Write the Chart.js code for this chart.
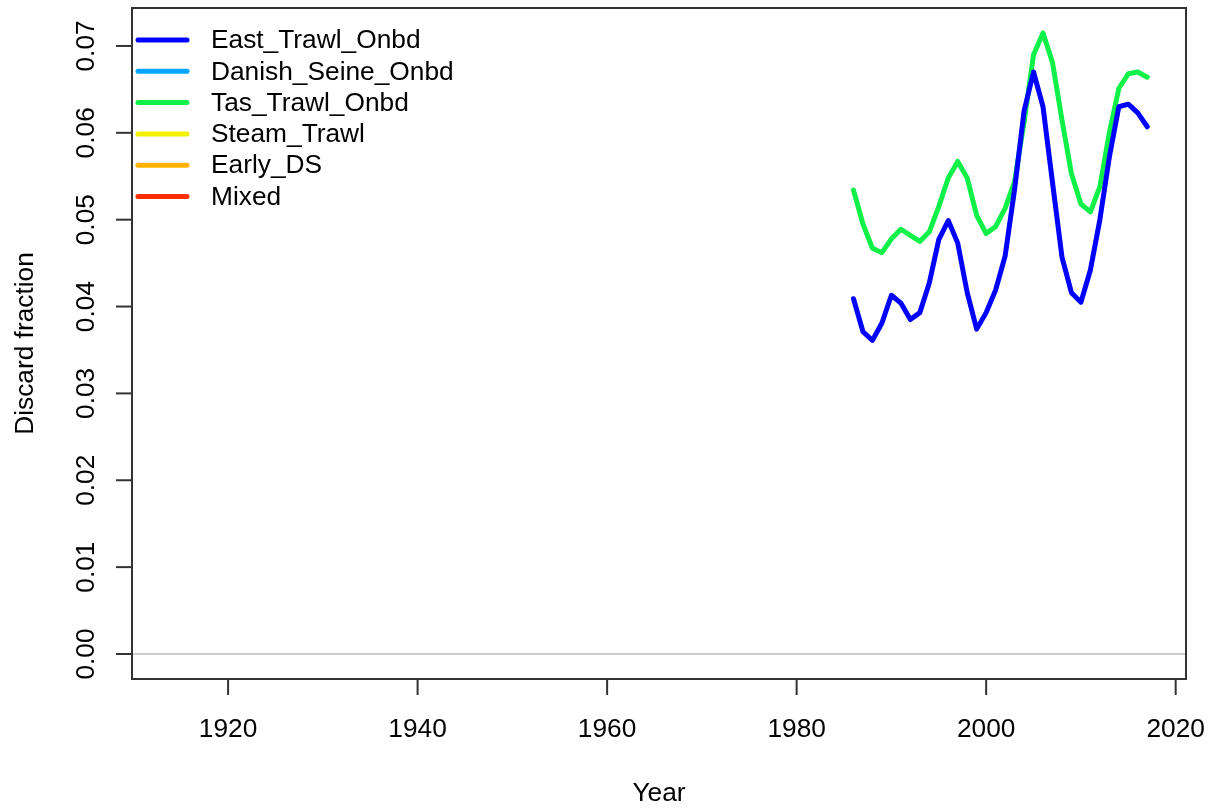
<!DOCTYPE html>
<html>
<head>
<meta charset="utf-8">
<title>Discard fraction</title>
<script src="https://cdn.jsdelivr.net/npm/chart.js@4.4.1/dist/chart.umd.min.js"></script>
<style>
  html, body { margin: 0; padding: 0; background: #fff; }
  #chart { display: block; }
</style>
</head>
<body>
<canvas id="chart" width="1212" height="810"></canvas>
<script>
// Datos
const years = [1986, 1987, 1988, 1989, 1990, 1991, 1992, 1993, 1994, 1995, 1996,
  1997, 1998, 1999, 2000, 2001, 2002, 2003, 2004, 2005, 2006, 2007, 2008, 2009,
  2010, 2011, 2012, 2013, 2014, 2015, 2016, 2017];

const eastTrawl = [0.0409, 0.0371, 0.0361, 0.0381, 0.0413, 0.0404, 0.0385, 0.0393,
  0.0427, 0.0477, 0.0499, 0.0473, 0.0416, 0.0374, 0.0393, 0.0419, 0.0458, 0.0535,
  0.0625, 0.0670, 0.0630, 0.0543, 0.0457, 0.0416, 0.0405, 0.0442, 0.0500, 0.0572,
  0.0630, 0.0633, 0.0623, 0.0607];

const tasTrawl = [0.0534, 0.0495, 0.0467, 0.0462, 0.0478, 0.0489, 0.0482, 0.0475,
  0.0486, 0.0515, 0.0548, 0.0567, 0.0548, 0.0505, 0.0484, 0.0492, 0.0513, 0.0544,
  0.0612, 0.0690, 0.0715, 0.0681, 0.0615, 0.0553, 0.0518, 0.0509, 0.0538, 0.0600,
  0.0651, 0.0668, 0.0670, 0.0664];

// Flotas sin datos en el periodo (solo aparecen en la leyenda)
const danishSeine = [];
const steamTrawl = [];
const earlyDS = [];
const mixed = [];

const fleetNames = ['East_Trawl_Onbd', 'Danish_Seine_Onbd', 'Tas_Trawl_Onbd',
  'Steam_Trawl', 'Early_DS', 'Mixed'];
const fleetColors = ['#0000ff', '#00a6ff', '#0ff048', '#f2f200', '#ffb300', '#ff2d00'];
const fleetValues = [eastTrawl, danishSeine, tasTrawl, steamTrawl, earlyDS, mixed];

const xTicks = [1920, 1940, 1960, 1980, 2000, 2020];
const yTicks = [0.00, 0.01, 0.02, 0.03, 0.04, 0.05, 0.06, 0.07];

const FONT = "26.3px 'Liberation Sans', Arial, sans-serif";
const AXIS_COLOR = '#333333';

// Ejes, marco, leyenda al estilo de R
const rStylePlugin = {
    id: 'rStyle',
    beforeDatasetsDraw(chart) {
        const { ctx, chartArea: a, scales: { y } } = chart;
        const y0 = y.getPixelForValue(0);
        ctx.save();
        ctx.strokeStyle = '#bebebe';
        ctx.lineWidth = 1.5;
        ctx.beginPath();
        ctx.moveTo(a.left, y0);
        ctx.lineTo(a.right, y0);
        ctx.stroke();
        ctx.restore();
    },
    afterDraw(chart) {
        const { ctx, chartArea: a, scales: { x, y } } = chart;
        ctx.save();
        ctx.strokeStyle = AXIS_COLOR;
        ctx.lineWidth = 2;
        ctx.strokeRect(a.left, a.top, a.right - a.left, a.bottom - a.top);

        ctx.fillStyle = '#000';
        ctx.font = FONT;

        // eje X
        ctx.textAlign = 'center';
        ctx.textBaseline = 'alphabetic';
        xTicks.forEach(v => {
            const px = x.getPixelForValue(v);
            ctx.beginPath();
            ctx.moveTo(px, a.bottom);
            ctx.lineTo(px, a.bottom + 16);
            ctx.stroke();
            ctx.fillText(String(v), px, a.bottom + 58);
        });

        // eje Y (etiquetas giradas)
        yTicks.forEach(v => {
            const py = y.getPixelForValue(v);
            ctx.beginPath();
            ctx.moveTo(a.left, py);
            ctx.lineTo(a.left - 16, py);
            ctx.stroke();
            ctx.save();
            ctx.translate(a.left - 38, py);
            ctx.rotate(-Math.PI / 2);
            ctx.fillText(v.toFixed(2), 0, 0);
            ctx.restore();
        });

        // títulos de los ejes
        ctx.fillText('Year', (a.left + a.right) / 2, 801);
        ctx.save();
        ctx.translate(33, (a.top + a.bottom) / 2);
        ctx.rotate(-Math.PI / 2);
        ctx.fillText('Discard fraction', 0, 0);
        ctx.restore();

        // leyenda
        ctx.textAlign = 'left';
        ctx.textBaseline = 'middle';
        ctx.lineCap = 'round';
        chart.data.datasets.forEach((ds, i) => {
            const ly = 40 + i * 31.3;
            ctx.strokeStyle = ds.borderColor;
            ctx.lineWidth = 5;
            ctx.beginPath();
            ctx.moveTo(138, ly);
            ctx.lineTo(187, ly);
            ctx.stroke();
            ctx.fillText(ds.label, 211, ly + 1);
        });
        ctx.restore();
    }
};

const datasets = fleetNames.map((name, i) => ({
    label: name,
    data: fleetValues[i].map((v, k) => ({ x: years[k], y: v })),
    borderColor: fleetColors[i],
    backgroundColor: fleetColors[i],
    borderWidth: 5,
    pointRadius: 0,
    tension: 0,
    borderJoinStyle: 'round',
    borderCapStyle: 'round',
    fill: false
}));

new Chart(document.getElementById('chart'), {
    type: 'line',
    data: { datasets },
    options: {
        responsive: false,
        animation: false,
        devicePixelRatio: 1,
        layout: { padding: { left: 132, right: 26, top: 8, bottom: 131 } },
        plugins: { legend: { display: false }, tooltip: { enabled: false } },
        scales: {
            x: { type: 'linear', min: 1909.86, max: 2021.09, display: false },
            y: { type: 'linear', min: -0.00288, max: 0.07437, display: false }
        }
    },
    plugins: [rStylePlugin]
});
</script>
</body>
</html>
